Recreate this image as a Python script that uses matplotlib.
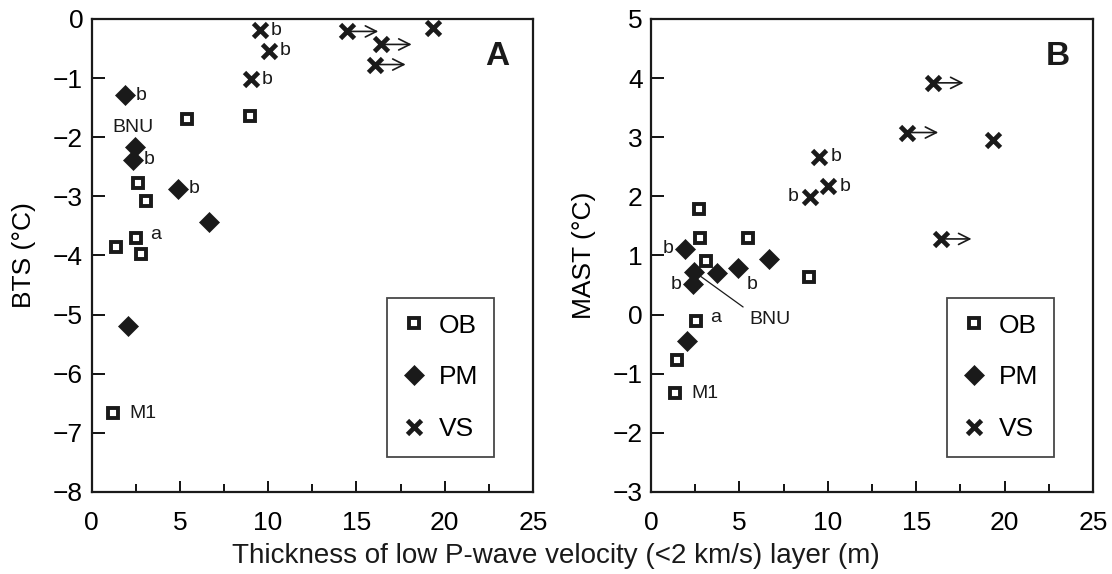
import numpy as np
import matplotlib
matplotlib.use('Agg')
import matplotlib.pyplot as plt
from matplotlib.lines import Line2D

plt.rcParams['font.family'] = ['Liberation Sans', 'DejaVu Sans']

# thickness of low P-wave velocity layer (m) and temperatures
# panel A: BTS
a_ob_x = [5.42, 8.96, 2.63, 3.10, 2.53, 1.40, 2.81, 1.21]
a_ob_y = [-1.69, -1.64, -2.77, -3.07, -3.70, -3.85, -3.98, -6.67]
a_ob_lab = ['', '', '', '', 'a', '', '', 'M1']

a_pm_x = [1.87, 2.44, 2.34, 4.89, 6.65, 2.06]
a_pm_y = [-1.29, -2.16, -2.38, -2.87, -3.44, -5.20]
a_pm_lab = ['b', '', 'b', 'b', '', '']

a_vs_x = [9.52, 10.03, 9.01, 14.49, 16.38, 16.04, 19.35]
a_vs_y = [-0.19, -0.54, -1.02, -0.21, -0.43, -0.77, -0.16]
a_vs_lab = ['b', 'b', 'b', '', '', '', '']
a_vs_arrow = [False, False, False, True, True, True, False]

# panel B: MAST
b_ob_x = [2.73, 2.77, 5.50, 3.09, 8.94, 2.55, 1.45, 1.36]
b_ob_y = [1.79, 1.30, 1.30, 0.90, 0.64, -0.10, -0.77, -1.33]
b_ob_lab = ['', '', '', '', '', 'a', '', 'M1']

b_pm_x = [1.92, 2.43, 2.36, 3.75, 4.94, 6.67, 2.02]
b_pm_y = [1.11, 0.72, 0.51, 0.71, 0.79, 0.94, -0.44]
b_pm_lab = ['bl', '', 'bl', '', 'bd', '', '']

b_vs_x = [15.93, 14.50, 19.36, 9.52, 10.03, 8.99, 16.38]
b_vs_y = [3.92, 3.08, 2.96, 2.67, 2.17, 1.99, 1.28]
b_vs_lab = ['', '', '', 'b', 'b', 'bl', '']
b_vs_arrow = [True, True, False, False, False, False, True]

x_ticks = [0, 5, 10, 15, 20, 25]

ink = '#1a1a1a'
ob_style = dict(marker='s', ms=6.5, mew=2.8, mfc='white', mec=ink, ls='none')
pm_style = dict(marker='D', ms=10, mew=0.5, mfc=ink, mec=ink, ls='none')
vs_style = dict(marker='x', ms=10, mew=3.4, mec=ink, ls='none')

fig = plt.figure(figsize=(11.12, 5.74), dpi=100)
axA = fig.add_axes([0.0823, 0.1429, 0.397, 0.824])
axB = fig.add_axes([0.5854, 0.1429, 0.3975, 0.824])


def put_label(ax, x, y, lab, fs=14):
    if not lab:
        return
    if lab == 'M1':
        off, ha, va = (12, 0), 'left', 'center'
    elif lab == 'a':
        off, ha, va = (10, 2), 'left', 'center'
    elif lab == 'bl':
        off, ha, va, lab = (-8, 0), 'right', 'center', 'b'
    elif lab == 'bd':
        off, ha, va, lab = (6, -12), 'left', 'center', 'b'
    else:
        off, ha, va = (8, 0), 'left', 'center'
    ax.annotate(lab, (x, y), xytext=off, textcoords='offset points',
                ha=ha, va=va, fontsize=fs, color=ink)


def draw_panel(ax, ob, pm, vs, arrows):
    ax.plot(ob[0], ob[1], **ob_style, zorder=3)
    ax.plot(pm[0], pm[1], **pm_style, zorder=3)
    ax.plot(vs[0], vs[1], **vs_style, zorder=3)
    for xs, ys, labs in (ob, pm, vs):
        for x, y, lab in zip(xs, ys, labs):
            put_label(ax, x, y, lab)
    # open arrows: value is a lower bound
    for x, y, arr in zip(vs[0], vs[1], arrows):
        if arr:
            ax.annotate('', xy=(x + 1.75, y), xytext=(x + 0.15, y),
                        arrowprops=dict(arrowstyle='->', lw=1.2, color=ink,
                                        shrinkA=0, shrinkB=0,
                                        mutation_scale=20))
    ax.set_xlim(0, 25)
    ax.set_xticks(x_ticks)
    ax.set_xticks(np.arange(2.5, 25, 5), minor=True)
    ax.tick_params(axis='x', which='major', direction='in', length=8, width=1.3,
                   labelsize=19, pad=14, top=False)
    ax.tick_params(axis='x', which='minor', direction='in', length=6, width=1.3,
                   top=False)
    ax.tick_params(axis='y', which='major', direction='in', length=9, width=1.3,
                   labelsize=19, pad=6, right=False)
    for s in ax.spines.values():
        s.set_linewidth(1.6)
        s.set_color(ink)
    handles = [Line2D([], [], **ob_style), Line2D([], [], **pm_style),
               Line2D([], [], **vs_style)]
    leg = ax.legend(handles, ['OB', 'PM', 'VS'], loc='lower right',
                    bbox_to_anchor=(0.912, 0.074), borderaxespad=0,
                    fontsize=19, frameon=True, fancybox=False,
                    handlelength=0.8, handletextpad=0.55, labelspacing=1.05,
                    borderpad=0.6)
    leg.get_frame().set_edgecolor(ink)
    leg.get_frame().set_linewidth(1.3)


draw_panel(axA, (a_ob_x, a_ob_y, a_ob_lab), (a_pm_x, a_pm_y, a_pm_lab),
           (a_vs_x, a_vs_y, a_vs_lab), a_vs_arrow)
axA.set_ylim(-8, 0)
axA.set_yticks(np.arange(-8, 1, 1))
axA.set_ylabel('BTS (°C)', fontsize=19, labelpad=12)
axA.text(0.92, 0.92, 'A', transform=axA.transAxes, fontsize=24,
         fontweight='bold', ha='center', va='center', color=ink)
axA.text(2.37, -1.83, 'BNU', ha='center', va='center', fontsize=14, color=ink)

draw_panel(axB, (b_ob_x, b_ob_y, b_ob_lab), (b_pm_x, b_pm_y, b_pm_lab),
           (b_vs_x, b_vs_y, b_vs_lab), b_vs_arrow)
axB.set_ylim(-3, 5)
axB.set_yticks(np.arange(-3, 6, 1))
axB.set_ylabel('MAST (°C)', fontsize=19, labelpad=12)
axB.text(0.92, 0.92, 'B', transform=axB.transAxes, fontsize=24,
         fontweight='bold', ha='center', va='center', color=ink)
axB.annotate('BNU', xy=(2.75, 0.66), xytext=(5.56, -0.09), ha='left', va='center',
             fontsize=14, color=ink,
             arrowprops=dict(arrowstyle='-', lw=0.9, color=ink,
                             relpos=(0, 1), shrinkA=3, shrinkB=0))

fig.text(0.5, 0.032, 'Thickness of low P-wave velocity (<2 km/s) layer (m)',
         ha='center', va='center', fontsize=20, color=ink)

fig.savefig('out.png', dpi=100)
